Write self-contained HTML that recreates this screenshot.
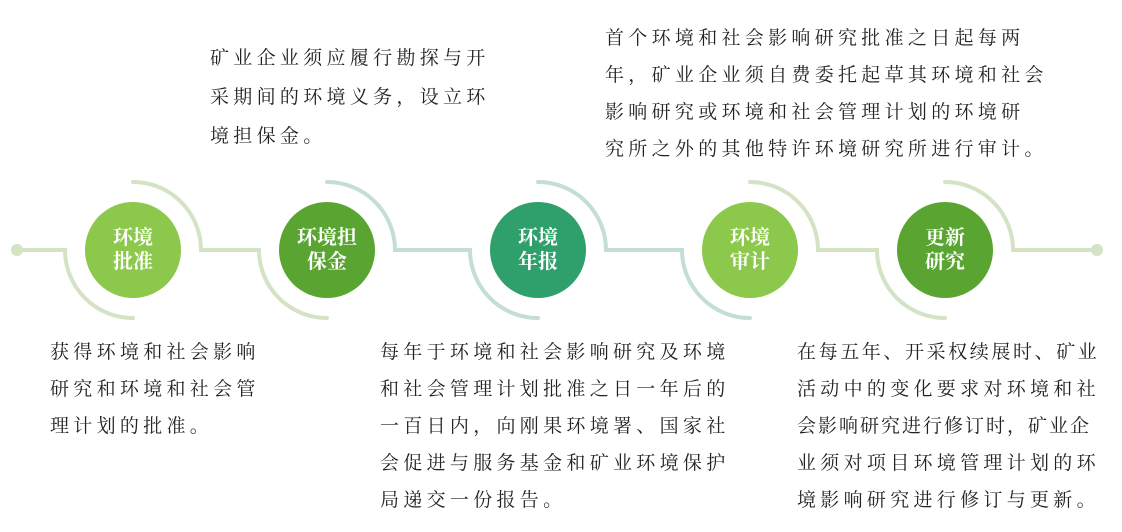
<!DOCTYPE html>
<html><head><meta charset="utf-8"><style>
body{margin:0;width:1122px;height:532px;background:#fff;position:relative;overflow:hidden}
.t{position:absolute;font-family:"Liberation Serif","Noto Serif CJK SC",serif;font-size:19px;letter-spacing:4.3px;line-height:37px;color:#222;white-space:nowrap}
.c{position:absolute;font-family:"Liberation Serif","Noto Serif CJK SC",serif;font-weight:bold;color:#fff;font-size:20px;line-height:24px;text-align:center}
</style></head><body>
<svg width="1122" height="532" style="position:absolute;left:0;top:0">
<g fill="none" stroke-width="4" stroke-linecap="round">
<path d="M17 250 H65 A68 68 0 0 0 133 318" stroke="#d3e3c3"/>
<path d="M133 182 A68 68 0 0 1 201 250 H259 A68 68 0 0 0 327 318" stroke="#d3e3c3"/>
<path d="M327 182 A68 68 0 0 1 395 250 H470 A68 68 0 0 0 538 318" stroke="#c4ddd6"/>
<path d="M538 182 A68 68 0 0 1 606 250 H682 A68 68 0 0 0 750 318" stroke="#c4ddd6"/>
<path d="M750 182 A68 68 0 0 1 818 250 H877 A68 68 0 0 0 945 318" stroke="#d3e3c3"/>
<path d="M945 182 A68 68 0 0 1 1013 250 H1097" stroke="#d3e3c3"/>
</g>
<circle cx="17" cy="250" r="6" fill="#d3e3c3"/>
<circle cx="1097" cy="250" r="6" fill="#d3e3c3"/>
<circle cx="133" cy="250" r="48" fill="#8cc84b"/>
<circle cx="327" cy="250" r="48" fill="#5aa532"/>
<circle cx="538" cy="250" r="48" fill="#2fa06c"/>
<circle cx="750" cy="250" r="48" fill="#8cc84b"/>
<circle cx="945" cy="250" r="48" fill="#5aa532"/>
</svg>
<div class="c" style="left:85px;top:226px;width:96px">环境<br>批准</div>
<div class="c" style="left:279px;top:226px;width:96px">环境担<br>保金</div>
<div class="c" style="left:490px;top:226px;width:96px">环境<br>年报</div>
<div class="c" style="left:702px;top:226px;width:96px">环境<br>审计</div>
<div class="c" style="left:897px;top:226px;width:96px">更新<br>研究</div>
<div class="t" style="left:210px;top:39px;line-height:39px">矿业企业须应履行勘探与开<br>采期间的环境义务，设立环<br>境担保金。</div>
<div class="t" style="left:605px;top:20px">首个环境和社会影响研究批准之日起每两<br>年，矿业企业须自费委托起草其环境和社会<br>影响研究或环境和社会管理计划的环境研<br>究所之外的其他特许环境研究所进行审计。</div>
<div class="t" style="left:50px;top:334px">获得环境和社会影响<br>研究和环境和社会管<br>理计划的批准。</div>
<div class="t" style="left:380px;top:334px">每年于环境和社会影响研究及环境<br>和社会管理计划批准之日一年后的<br>一百日内，向刚果环境署、国家社<br>会促进与服务基金和矿业环境保护<br>局递交一份报告。</div>
<div class="t" style="left:797px;top:334px"><span style="letter-spacing:2.6px">在每五年、开采权续展时、矿业</span><br>活动中的变化要求对环境和社<br><span style="letter-spacing:2px">会影响研究进行修订时，矿业企</span><br>业须对项目环境管理计划的环<br>境影响研究进行修订与更新。</div>
</body></html>
